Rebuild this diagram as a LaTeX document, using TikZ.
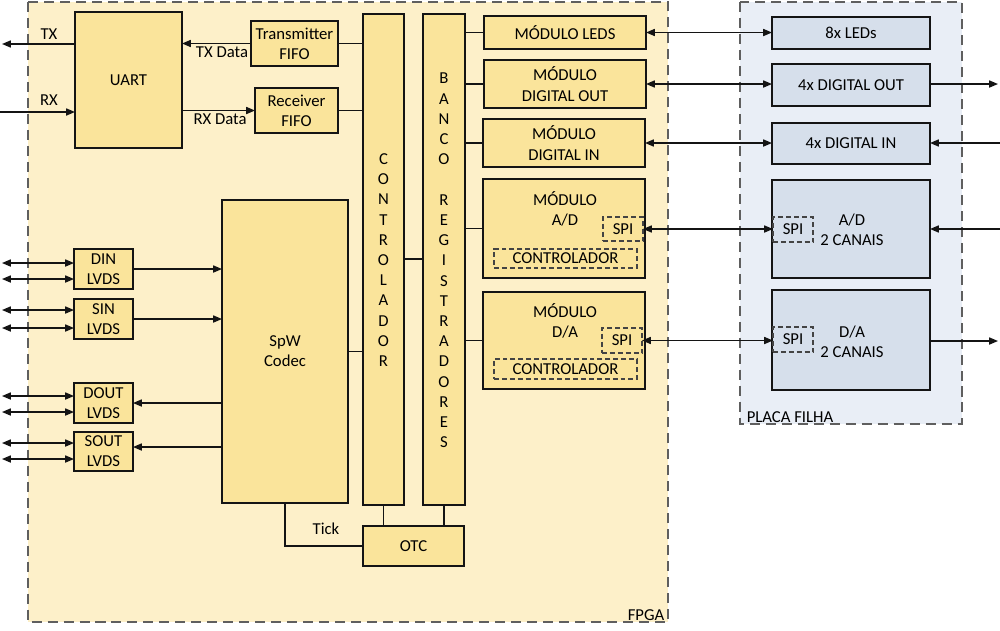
\documentclass[tikz,border=0pt]{standalone}
\usepackage{fontspec}
\setmainfont{Carlito}
\usetikzlibrary{arrows.meta}
\definecolor{fpgabg}{RGB}{253,240,201}
\definecolor{fpgabox}{RGB}{250,228,155}
\definecolor{placabg}{RGB}{233,238,246}
\definecolor{placabox}{RGB}{214,223,235}
\definecolor{regionline}{RGB}{95,95,95}
\definecolor{linecol}{RGB}{20,20,20}
\newcommand{\blk}[7]{\node[#1, minimum width={(#5-#3)*0.02cm}, minimum height={(#6-#4)*0.02cm}] (#2) at ({(#3+#5)/2},{(#4+#6)/2}) {#7};}
\begin{document}
\begin{tikzpicture}[x=0.02cm,y=-0.02cm,
  font=\fontsize{9.5}{11.5}\selectfont,
  fblock/.style={draw=linecol, line width=0.9pt, fill=fpgabox, inner sep=0pt, outer sep=0pt, align=center},
  pblock/.style={draw=linecol, line width=0.9pt, fill=placabox, inner sep=0pt, outer sep=0pt, align=center},
  subblock/.style={draw=linecol!80, line width=0.8pt, dash pattern=on 2.8pt off 1.7pt, inner sep=0pt, outer sep=0pt, align=center},
  region/.style={draw=regionline, line width=1.1pt, dash pattern=on 5.7pt off 3.4pt},
  conn/.style={draw=linecol, line width=0.8pt},
  arr/.style={conn, -{Triangle[length=5pt,width=4pt]}},
  darr/.style={conn, {Triangle[length=5pt,width=4pt]}-{Triangle[length=5pt,width=4pt]}},
  lbl/.style={inner sep=0pt, align=center}
]
\useasboundingbox (0,0) rectangle (1000,630);

% regions
\draw[region, fill=fpgabg] (28,2) rectangle (668,622);
\draw[region, fill=placabg] (740,2) rectangle (962,424);
\node[lbl] (fpgalbl) at (646,615) {FPGA};
\node[lbl] (placalbl) at (790,417) {PLACA FILHA};

% FPGA blocks
\blk{fblock}{uart}{75}{12}{182}{148}{UART}
\blk{fblock}{txfifo}{251}{21}{338}{66}{Transmitter\\FIFO}
\blk{fblock}{rxfifo}{255}{88}{338}{133}{Receiver\\FIFO}
\blk{fblock}{ctrl}{363}{14}{404}{505}{}
\blk{fblock}{banco}{423}{14}{465}{505}{}
\node[lbl] (ctrltxt) at (383.5,260) {C\\O\\N\\T\\R\\O\\L\\A\\D\\O\\R};
\node[lbl] (bancotxt) at (444,260.5) {B\\A\\N\\C\\O\\[11.5pt]R\\E\\G\\I\\S\\T\\R\\A\\D\\O\\R\\E\\S};
\blk{fblock}{spw}{222}{200}{348}{503}{SpW\\Codec}
\blk{fblock}{otc}{363}{526}{464}{566}{OTC}

\blk{fblock}{dinl}{74}{249}{133}{289}{DIN\\LVDS}
\blk{fblock}{sinl}{74}{299}{133}{339}{SIN\\LVDS}
\blk{fblock}{doutl}{74}{383}{133}{423}{DOUT\\LVDS}
\blk{fblock}{soutl}{74}{432}{133}{471}{SOUT\\LVDS}

\blk{fblock}{mleds}{484}{16}{646}{49}{MÓDULO LEDS}
\blk{fblock}{mdout}{484}{60}{646}{108}{MÓDULO\\DIGITAL OUT}
\blk{fblock}{mdin}{483}{119}{645}{167}{MÓDULO\\DIGITAL IN}
\blk{fblock}{mad}{483}{179}{645}{278}{}
\node[lbl] (madtxt) at (565,209) {MÓDULO\\A/D};
\blk{subblock}{madspi}{603}{217}{643}{241}{SPI}
\blk{subblock}{madctl}{494}{249}{637}{268}{CONTROLADOR}
\blk{fblock}{mda}{483}{292}{645}{389}{}
\node[lbl] (mdatxt) at (565,321) {MÓDULO\\D/A};
\blk{subblock}{mdaspi}{602}{328}{642}{353}{SPI}
\blk{subblock}{mdactl}{494}{359}{637}{379}{CONTROLADOR}

% Placa filha blocks
\blk{pblock}{pleds}{772}{17}{930}{49}{8x LEDs}
\blk{pblock}{pdout}{772}{64}{930}{106}{4x DIGITAL OUT}
\blk{pblock}{pdin}{772}{123}{930}{164}{4x DIGITAL IN}
\blk{pblock}{pad}{772}{180}{930}{278}{}
\node[lbl] (padtxt) at (852,230) {A/D\\2 CANAIS};
\blk{subblock}{padspi}{773}{217}{813}{242}{SPI}
\blk{pblock}{pda}{772}{290}{930}{390}{}
\node[lbl] (pdatxt) at (852,342) {D/A\\2 CANAIS};
\blk{subblock}{pdaspi}{773}{327}{813}{352}{SPI}

% free ends
\coordinate (txend) at (2,44);
\coordinate (rxstart) at (0,112);
\coordinate (a1) at (2,263);
\coordinate (a2) at (2,279);
\coordinate (a3) at (2,310);
\coordinate (a4) at (2,328);
\coordinate (a5) at (2,396);
\coordinate (a6) at (2,412);
\coordinate (a7) at (2,443);
\coordinate (a8) at (2,459);
\coordinate (soutlvl) at (0,447);
\coordinate (ctrlbanco) at (0,259);
\coordinate (e1) at (998,84);
\coordinate (e2) at (1000,143);
\coordinate (e3) at (1000,229);
\coordinate (e4) at (998,341);

% UART connections
\draw[arr] (uart.west |- txend) -- (txend);
\node[lbl] (txlbl) at (49,34) {TX};
\draw[arr] (rxstart) -- (uart.west |- rxstart);
\node[lbl] (rxlbl) at (49,100) {RX};
\draw[arr] (txfifo.west) -- (uart.east |- txfifo.west);
\node[lbl] (txdlbl) at (222,52) {TX Data};
\draw[arr] (uart.east |- rxfifo.west) -- (rxfifo.west);
\node[lbl] (rxdlbl) at (220,119) {RX Data};
\draw[conn] (txfifo.east) -- (ctrl.west |- txfifo.east);
\draw[conn] (rxfifo.east) -- (ctrl.west |- rxfifo.east);

% controller / bank
\draw[conn] (ctrl.east |- ctrlbanco) -- (banco.west |- ctrlbanco);
\draw[conn] (spw.east) -- (ctrl.west |- spw.east);
\draw[conn] (banco.east |- mleds.west) -- (mleds.west);
\draw[conn] (banco.east |- mdout.west) -- (mdout.west);
\draw[conn] (banco.east |- mdin.west) -- (mdin.west);
\draw[conn] (banco.east |- mad.west) -- (mad.west);
\draw[conn] (banco.east |- mda.west) -- (mda.west);

% OTC
\draw[conn] (ctrl.south) -- (ctrl.south |- otc.north);
\draw[conn] (banco.south) -- (banco.south |- otc.north);
\draw[conn] (spw.south) -- (spw.south |- otc.west) -- (otc.west);
\node[lbl] (ticklbl) at (326,529) {Tick};

% LVDS
\draw[darr] (a1) -- (dinl.west |- a1);
\draw[darr] (a2) -- (dinl.west |- a2);
\draw[darr] (a3) -- (sinl.west |- a3);
\draw[darr] (a4) -- (sinl.west |- a4);
\draw[darr] (a5) -- (doutl.west |- a5);
\draw[darr] (a6) -- (doutl.west |- a6);
\draw[darr] (a7) -- (soutl.west |- a7);
\draw[darr] (a8) -- (soutl.west |- a8);
\draw[arr] (dinl.east) -- (spw.west |- dinl.east);
\draw[arr] (sinl.east) -- (spw.west |- sinl.east);
\draw[arr] (spw.west |- doutl.east) -- (doutl.east);
\draw[arr] (spw.west |- soutlvl) -- (soutl.east |- soutlvl);

% modules to daughter board
\draw[darr] (mleds.east) -- (mleds.east -| pleds.west);
\draw[darr] (mdout.east) -- (mdout.east -| pdout.west);
\draw[darr] (mdin.east) -- (mdin.east -| pdin.west);
\draw[darr] (madspi.east) -- (madspi.east -| padspi.west);
\draw[darr] (mdaspi.east) -- (mdaspi.east -| pdaspi.west);

% external
\draw[arr] (pdout.east |- e1) -- (e1);
\draw[arr] (e2) -- (pdin.east |- e2);
\draw[arr] (e3) -- (pad.east |- e3);
\draw[arr] (pda.east |- e4) -- (e4);
\end{tikzpicture}
\end{document}
